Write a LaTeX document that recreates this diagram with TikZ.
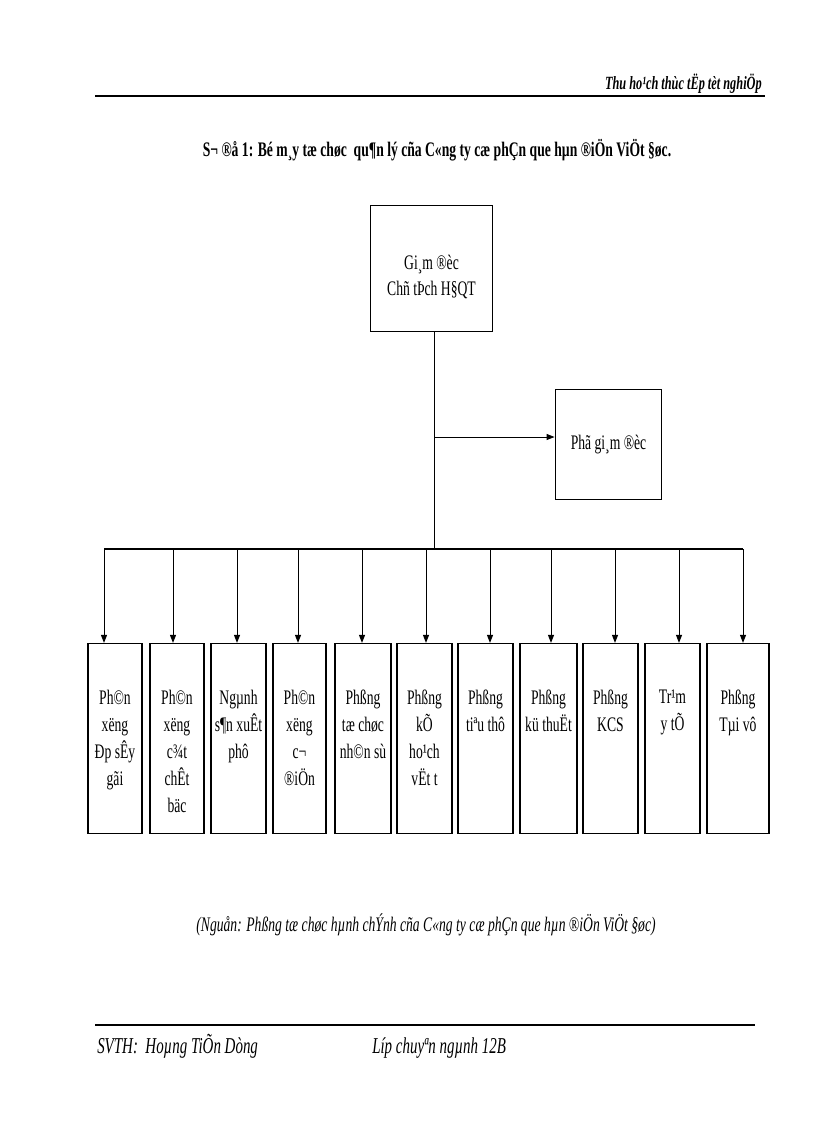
\documentclass[tikz,border=0pt]{standalone}
\usepackage{fontspec}
\setmainfont{Liberation Serif}[FakeStretch=0.66]
\usetikzlibrary{arrows.meta,positioning}

\tikzset{
  unitbox/.style={draw, line width=0.9pt, minimum width=#1, minimum height=142.5pt, inner sep=0pt},
  unittext/.style={anchor=north, inner sep=0pt, align=center, font=\fontsize{15.5}{20.25}\selectfont},
  topbox/.style={draw, line width=0.9pt, minimum width=92pt, minimum height=95pt, inner sep=0pt, align=center, font=\fontsize{15.5}{19.5}\selectfont},
  feed/.style={line width=0.7pt, -{Triangle[length=6pt, width=4.5pt]}},
}

\begin{document}
\begin{tikzpicture}[x=0.75pt,y=0.75pt,yscale=-1,xscale=1]
\useasboundingbox (0,0) rectangle (816,1123);

% Header
\node (head) [anchor=base east, inner sep=0pt, font=\fontsize{14}{16}\selectfont\bfseries\itshape] at (762,90) {Thu ho¹ch thùc tËp tèt nghiÖp};
\draw [line width=1.6pt] (95,96) -- (765,96);

% Title
\node (title) [anchor=base, inner sep=0pt, font=\fontsize{15.5}{18}\selectfont\bfseries] at (437,157) {S¬ ®å 1: Bé m¸y tæ chøc\ \ qu¶n lý cña C«ng ty cæ phÇn que hµn ®iÖn ViÖt §øc.};

% Director
\node (gd) [topbox] at (431.5,268.5) {};
\node (gdt) [unittext, font=\fontsize{15.5}{19.5}\selectfont] at (431.5,255) {Gi¸m ®èc\\Chñ tÞch H§QT};
% Deputy director
\node (pgd) [topbox, minimum width=80pt, minimum height=83pt] at (608.5,444.5) {Phã gi¸m ®èc};

\coordinate (trunk) at (434,549);
\coordinate (fork) at (434,437);
\draw [line width=0.7pt] (gd.south -| trunk) -- (trunk);
\draw [feed] (fork) -- (fork -| pgd.west);

% Departments
\foreach \name/\cx/\w/\ax/\txt in {
  d1/115/40.5/104/{Ph©n\\xëng\\Ðp sÊy\\gãi},
  d2/177/40.5/173/{Ph©n\\xëng\\c¾t\\chÊt\\bäc},
  d3/238.5/41.25/237/{Ngµnh\\s¶n xuÊt\\phô},
  d4/299.5/39.75/298/{Ph©n\\xëng\\c¬\\®iÖn},
  d5/363/42/362/{Phßng\\tæ chøc\\nh©n sù},
  d6/424.5/41.25/426/{Phßng\\kÕ\\ho¹ch\\vËt t},
  d7/485.5/41.25/490/{Phßng\\tiªu thô},
  d8/548.5/42.75/551/{Phßng\\kü thuËt},
  d9/610.5/41.25/615/{Phßng\\KCS},
  d10/672.5/41.25/679/{Tr¹m\\y tÕ},
  d11/738/46.5/743/{Phßng\\Tµi vô}}{
  \node (\name) [unitbox=\w pt] at (\cx,738.5) {};
  \node (\name t) [unittext] at (\cx,690) {\txt};
  \coordinate (\name a) at (\ax,549);
  \draw [feed] (\name a) -- (\name a |- \name.north);
}
\draw [line width=1.5pt] (d1a) -- (d11a);

% Source
\node (src) [anchor=base, inner sep=0pt, font=\fontsize{15.5}{18}\selectfont\itshape] at (426,931) {(Nguån: Phßng tæ chøc hµnh chÝnh cña C«ng ty cæ phÇn que hµn ®iÖn ViÖt §øc)};

% Footer
\draw [line width=1.6pt] (95,1025) -- (755,1025);
\node (svth) [anchor=base west, inner sep=0pt, font=\fontsize{17}{19}\selectfont\itshape] at (97,1053) {SVTH:\ \ Hoµng TiÕn Dòng};
\node (lop) [anchor=base west, inner sep=0pt, font=\fontsize{17}{19}\selectfont\itshape] at (372,1053) {Líp chuyªn ngµnh 12B};

\end{tikzpicture}
\end{document}
